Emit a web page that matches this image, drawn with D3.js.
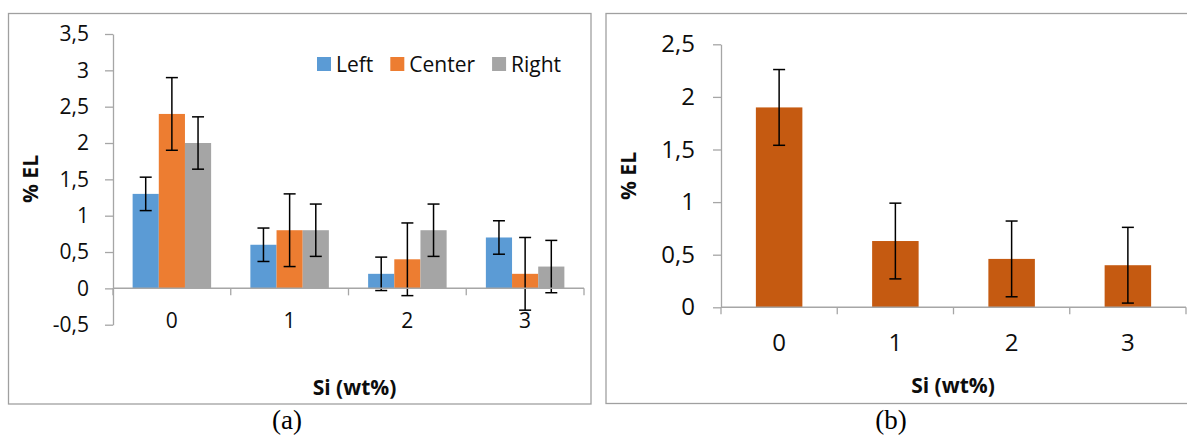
<!DOCTYPE html>
<html>
<head>
<meta charset="utf-8">
<script src="https://cdn.jsdelivr.net/npm/d3@7"></script>
<style>
  html, body { margin: 0; padding: 0; background: #fff; }
  svg { display: block; }
</style>
</head>
<body>
<svg id="fig" width="1187" height="437"></svg>
<script>
// Elongation (% EL) versus silicon content
const categories = ["0", "1", "2", "3"];
const seriesNames = ["Left", "Center", "Right"];
const seriesColors = ["#5B9BD5", "#ED7D31", "#A5A5A5"];

// (a) position-resolved elongation
const leftEL   = [1.3, 0.6, 0.2, 0.7];
const centerEL = [2.4, 0.8, 0.4, 0.2];
const rightEL  = [2.0, 0.8, 0.8, 0.3];
const leftErr   = [0.23, 0.23, 0.23, 0.23];
const centerErr = [0.5, 0.5, 0.5, 0.5];
const rightErr  = [0.36, 0.36, 0.36, 0.36];
const ticksA = [-0.5, 0, 0.5, 1, 1.5, 2, 2.5, 3, 3.5];

// (b) averaged elongation
const meanEL  = [1.9, 0.63, 0.46, 0.4];
const meanErr = [0.36, 0.36, 0.36, 0.36];
const meanColor = "#C55A11";
const ticksB = [0, 0.5, 1, 1.5, 2, 2.5];

const axisTitleX = "Si (wt%)";
const axisTitleY = "% EL";

const SANS = '"Open Sans", "Liberation Sans", sans-serif';
const SERIF = '"Liberation Serif", "Times New Roman", serif';

const svg = d3.select("#fig");
const AXIS = "#A6A6A6";
const fmt = v => String(v).replace(".", ",");

function frame(x0, y0, x1, y1) {
  svg.append("rect").attr("x", x0).attr("y", y0)
    .attr("width", x1 - x0).attr("height", y1 - y0)
    .attr("fill", "none").attr("stroke", "#A0A0A0").attr("stroke-width", 1.3);
}

function yAxis(y, xPos, ticks, pad, size) {
  const g = svg.append("g").attr("transform", `translate(${xPos},0)`)
    .call(d3.axisLeft(y).tickValues(ticks).tickFormat(fmt)
      .tickSize(8).tickSizeOuter(0).tickPadding(pad));
  g.selectAll("path, line").attr("stroke", AXIS).attr("stroke-width", 1.3);
  g.selectAll("text").style("font-size", size + "px").style("font-family", SANS)
    .attr("fill", "#0d0d0d");
  return g;
}

function xAxis(xb, y0, labelY, size) {
  const [a, b] = xb.range();
  svg.append("line").attr("x1", a).attr("x2", b).attr("y1", y0).attr("y2", y0)
    .attr("stroke", AXIS).attr("stroke-width", 1.5);
  const bounds = categories.map(c => xb(c)).concat([b]);
  svg.append("g").selectAll("line").data(bounds).join("line")
    .attr("x1", d => d).attr("x2", d => d)
    .attr("y1", y0).attr("y2", y0 + 7)
    .attr("stroke", AXIS).attr("stroke-width", 1.3);
  svg.append("g").selectAll("text").data(categories).join("text")
    .attr("x", c => xb(c) + xb.bandwidth() / 2).attr("y", labelY)
    .attr("text-anchor", "middle").attr("fill", "#0d0d0d")
    .style("font-family", SANS).style("font-size", size + "px").text(c => c);
}

function errorBars(g, pts, y) {
  const cap = 6;
  const eg = g.append("g").attr("stroke", "#000").attr("stroke-width", 1.5);
  eg.selectAll("line.v").data(pts).join("line").attr("class", "v")
    .attr("x1", d => d.cx).attr("x2", d => d.cx)
    .attr("y1", d => y(d.v + d.e)).attr("y2", d => y(d.v - d.e));
  eg.selectAll("line.t").data(pts).join("line").attr("class", "t")
    .attr("x1", d => d.cx - cap).attr("x2", d => d.cx + cap)
    .attr("y1", d => y(d.v + d.e)).attr("y2", d => y(d.v + d.e));
  eg.selectAll("line.b").data(pts).join("line").attr("class", "b")
    .attr("x1", d => d.cx - cap).attr("x2", d => d.cx + cap)
    .attr("y1", d => y(d.v - d.e)).attr("y2", d => y(d.v - d.e));
}

function titles(cx, ty, yx, yy) {
  svg.append("text").attr("x", cx).attr("y", ty).attr("text-anchor", "middle")
    .attr("fill", "#0d0d0d").style("font-family", SANS).style("font-size", "21px")
    .style("font-weight", "bold").text(axisTitleX);
  svg.append("text").attr("transform", `translate(${yx},${yy}) rotate(-90)`)
    .attr("text-anchor", "middle").attr("fill", "#0d0d0d")
    .style("font-family", SANS).style("font-size", "21px").style("font-weight", "bold")
    .text(axisTitleY);
}

function caption(x, label) {
  svg.append("text").attr("x", x).attr("y", 429).attr("text-anchor", "middle")
    .attr("fill", "#000").style("font-family", SERIF).style("font-size", "27px")
    .text(label);
}

// ---------- (a) grouped bars ----------
{
  frame(8.5, 13.5, 591, 404);
  const y = d3.scaleLinear().domain([-0.5, 3.5]).range([324.7, 34]);
  const xb = d3.scaleBand().domain(categories).range([113, 584]).padding(0);
  const xs = d3.scaleBand().domain(seriesNames).range([0, xb.bandwidth()])
    .paddingInner(0).paddingOuter(0.75);

  const values = [leftEL, centerEL, rightEL];
  const errs = [leftErr, centerErr, rightErr];
  const pts = [];
  seriesNames.forEach((s, si) => categories.forEach((c, ci) => {
    pts.push({ s, c, v: values[si][ci], e: errs[si][ci],
      x: xb(c) + xs(s), cx: xb(c) + xs(s) + xs.bandwidth() / 2, color: seriesColors[si] });
  }));

  yAxis(y, 113, ticksA, 16, 21);
  const g = svg.append("g");
  g.selectAll("rect").data(pts).join("rect")
    .attr("x", d => d.x).attr("width", xs.bandwidth())
    .attr("y", d => Math.min(y(d.v), y(0)))
    .attr("height", d => Math.abs(y(0) - y(d.v)))
    .attr("fill", d => d.color);
  xAxis(xb, y(0), 328, 21);
  errorBars(g, pts, y);

  // legend
  const lg = svg.append("g");
  let lx = 317;
  seriesNames.forEach((s, i) => {
    lg.append("rect").attr("x", lx).attr("y", 57).attr("width", 14).attr("height", 14)
      .attr("fill", seriesColors[i]);
    const t = lg.append("text").attr("x", lx + 19).attr("y", 72).attr("fill", "#0d0d0d")
      .style("font-family", SANS).style("font-size", "21px").text(s);
    lx += 19 + t.node().getComputedTextLength() + 17;
  });

  titles(354.5, 395, 37.5, 179);
  caption(287, "(a)");
}

// ---------- (b) mean bars ----------
{
  frame(606, 13.5, 1200, 403.5);
  const y = d3.scaleLinear().domain([0, 2.5]).range([307.3, 44.3]);
  const xb = d3.scaleBand().domain(categories).range([721, 1186]).padding(0);
  const xr = d3.scaleBand().domain(categories).range([721, 1186])
    .paddingInner(0.6).paddingOuter(0.3);

  const pts = categories.map((c, i) => ({ c, v: meanEL[i], e: meanErr[i],
    x: xr(c), cx: xr(c) + xr.bandwidth() / 2 }));

  yAxis(y, 721, ticksB, 18, 24);
  const g = svg.append("g");
  g.selectAll("rect").data(pts).join("rect")
    .attr("x", d => d.x).attr("width", xr.bandwidth())
    .attr("y", d => y(d.v)).attr("height", d => y(0) - y(d.v))
    .attr("fill", meanColor);
  xAxis(xb, y(0), 351, 24);
  errorBars(g, pts, y);

  titles(953, 392.5, 635.5, 176);
  caption(891, "(b)");
}
</script>
</body>
</html>
